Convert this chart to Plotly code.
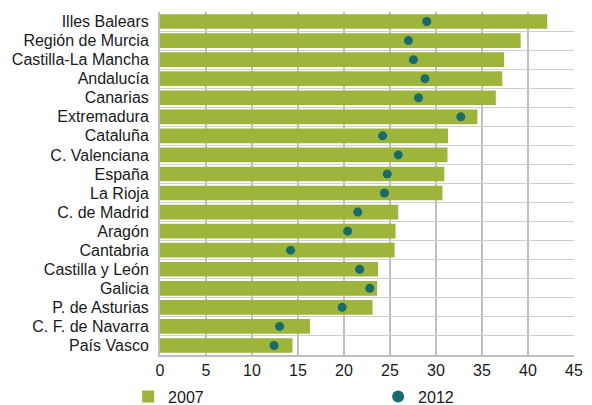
import plotly.graph_objects as go

regions = ["Illes Balears", "Región de Murcia", "Castilla-La Mancha", "Andalucía", "Canarias",
           "Extremadura", "Cataluña", "C. Valenciana", "España", "La Rioja", "C. de Madrid",
           "Aragón", "Cantabria", "Castilla y León", "Galicia", "P. de Asturias",
           "C. F. de Navarra", "País Vasco"]
v2007 = [42.1, 39.2, 37.4, 37.2, 36.5, 34.5, 31.3, 31.25, 30.9, 30.7, 25.9,
         25.6, 25.5, 23.7, 23.6, 23.1, 16.3, 14.4]
v2012 = [29.0, 27.0, 27.55, 28.8, 28.1, 32.7, 24.2, 25.9, 24.7, 24.4, 21.5,
         20.4, 14.2, 21.7, 22.8, 19.8, 13.0, 12.4]
xticks = [0, 5, 10, 15, 20, 25, 30, 35, 40, 45]

fig = go.Figure()
fig.add_trace(go.Bar(y=regions, x=v2007, orientation="h", name="2007",
                     marker=dict(color="#9DB53A", line=dict(width=0))))
fig.add_trace(go.Scatter(y=regions, x=v2012, mode="markers", name="2012",
                         marker=dict(color="#176B6D", size=9, symbol="circle")))

font = "Liberation Sans, Arial, sans-serif"
fig.update_layout(
    width=584, height=397,
    margin=dict(l=152, r=18, t=4, b=50, autoexpand=False),
    plot_bgcolor="white", paper_bgcolor="white",
    bargap=0.23,
    font=dict(family=font, size=16, color="#1a1a1a"),
    showlegend=True,
    legend=dict(orientation="h", x=-0.077, xanchor="left", y=-0.121, yanchor="middle",
                entrywidth=205, font=dict(size=16), itemsizing="constant",
                traceorder="normal"),
    xaxis=dict(range=[0, 45], tickvals=xticks, ticktext=[str(t) for t in xticks],
               showgrid=True, gridcolor="#BDBDC2", gridwidth=2,
               showline=True, linecolor="#BDBDC2", linewidth=2,
               zeroline=False, ticks="", tickfont=dict(size=16), automargin=False),
    yaxis=dict(categoryorder="array", categoryarray=regions,
               range=[len(regions) - 0.5, -0.5],
               tickmode="linear", dtick=1, tick0=0,
               tickson="boundaries", showgrid=True, gridcolor="#CDCDD0", gridwidth=1,
               showline=True, linecolor="#BDBDC2", linewidth=2, ticks="",
               ticklabelstandoff=6, automargin=False),
)
fig.write_html("out.html")
